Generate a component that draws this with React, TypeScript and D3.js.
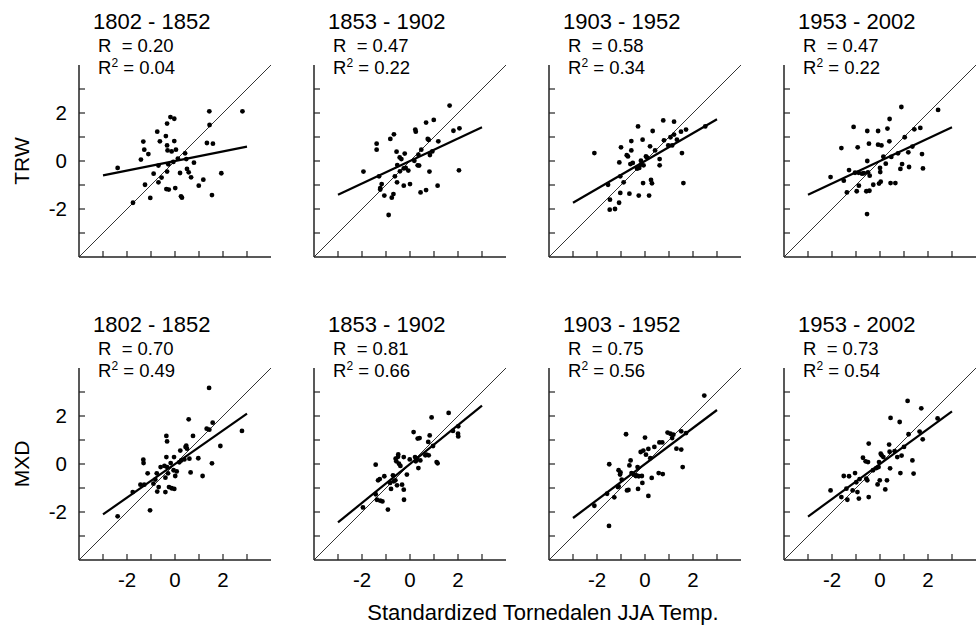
import React from "react";
import * as d3 from "d3";

type Pt = [number, number];

const periods = ["1802 - 1852", "1853 - 1902", "1903 - 1952", "1953 - 2002"];
const rowLabels = ["TRW", "MXD"];
const trwR = [0.2, 0.47, 0.58, 0.47];
const trwR2 = [0.04, 0.22, 0.34, 0.22];
const mxdR = [0.7, 0.81, 0.75, 0.73];
const mxdR2 = [0.49, 0.66, 0.56, 0.54];
const tickValues = [-3, -2, -1, 0, 1, 2, 3];
const tickLabels = [-2, 0, 2];
const xTitle = "Standardized Tornedalen JJA Temp.";

const trw1: Pt[] = [
  [-2.39, -0.29], [-1.75, -1.74], [-1.42, 0.06], [-1.32, 0.81], [-1.28, 0.47], [-1.11, 0.29],
  [-1.25, -0.99], [-1.03, -1.54], [-0.89, -0.53], [-0.74, 1.22], [-0.69, -0.19], [-0.69, -0.89],
  [-0.63, 0.82], [-0.56, -0.69], [-0.38, 1.04], [-0.33, 1.56], [-0.33, 0.65], [-0.31, 0.44],
  [-0.33, -0.44], [-0.36, -1.17], [-0.26, -1.19], [-0.28, -0.14], [-0.19, 1.83], [-0.03, 1.76],
  [-0.14, 0.4], [-0.07, -0.04], [-0.03, 0.83], [0.04, 0.47], [0.01, -1.13], [0.21, -0.5],
  [0.25, -1.47], [0.29, -1.53], [0.42, 0.32], [0.47, 0.08], [0.5, -0.33], [0.57, -0.47],
  [0.67, -0.68], [0.79, -0.07], [0.99, -1.03], [1.18, -0.78], [1.33, 0.75], [1.58, 0.72],
  [1.44, 1.5], [1.43, 2.07], [1.54, -1.42], [1.93, -0.51], [2.81, 2.07], [0.12, 0.1],
];

const trw2: Pt[] = [
  [-1.94, -0.44], [-1.39, 0.72], [-1.39, 0.47], [-1.29, -0.64], [-1.18, -0.96], [-1.24, -1.13],
  [-1.24, -1.19], [-1.07, -1.44], [-0.89, -2.25], [-0.82, 0.92], [-0.67, 1.11], [-0.76, -1.53],
  [-0.69, -1.38], [-0.63, -0.64], [-0.56, 0.39], [-0.53, -0.17], [-0.54, -0.89], [-0.43, 0.15],
  [-0.36, 0.08], [-0.42, -0.43], [-0.22, 0.31], [-0.26, -0.31], [-0.26, -1.03], [-0.18, -0.29],
  [-0.07, -0.4], [0.0, -0.96], [0.18, 0.01], [0.22, 1.31], [0.24, 1.22], [0.32, -0.18],
  [0.38, -0.19], [0.35, 0.26], [0.47, 0.47], [0.44, -1.31], [0.67, 1.6], [0.67, -1.21],
  [0.74, 0.92], [0.78, 0.88], [0.81, -0.44], [0.83, 0.25], [0.93, 0.4], [0.99, 1.71],
  [1.15, -1.03], [1.18, 0.82], [1.65, 2.31], [1.81, 1.26], [2.06, 1.36], [2.04, -0.39],
];

const trw3: Pt[] = [
  [-2.11, 0.33], [-1.54, -0.99], [-1.46, -1.61], [-1.47, -2.03], [-1.25, -2.0], [-1.08, -1.74],
  [-1.03, -1.33], [-1.03, -0.64], [-1.07, -0.06], [-1.0, 0.57], [-0.89, -0.89], [-0.76, 0.24],
  [-0.71, 0.19], [-0.65, -1.36], [-0.57, 0.83], [-0.57, 0.44], [-0.61, -0.13], [-0.51, -0.08],
  [-0.33, -0.32], [-0.29, 1.44], [-0.26, -1.44], [-0.24, -0.29], [-0.17, -0.15], [-0.17, 0.01],
  [-0.1, 0.89], [-0.08, -0.92], [-0.06, -0.18], [0.04, 0.19], [0.08, 0.15], [0.17, -1.44],
  [0.21, 0.61], [0.25, -0.79], [0.29, -0.93], [0.32, 1.25], [0.42, 0.44], [0.61, 0.08],
  [0.61, -0.18], [0.76, 1.69], [0.79, 0.86], [0.97, 0.65], [1.06, 0.99], [1.13, 0.65],
  [1.21, 1.64], [1.21, 1.1], [1.33, 0.89], [1.5, 1.22], [1.54, 0.33], [1.6, -0.92],
  [1.71, 1.31], [2.51, 1.44],
];

const trw4: Pt[] = [
  [-2.06, -0.67], [-1.61, 0.54], [-1.51, -0.82], [-1.38, -1.31], [-1.29, -0.38], [-1.1, 1.42],
  [-1.04, -0.49], [-0.97, -1.26], [-0.93, 0.57], [-0.89, -0.49], [-0.88, -1.03], [-0.75, -0.53],
  [-0.67, -0.51], [-0.57, -1.26], [-0.54, -2.21], [-0.53, 1.25], [-0.53, 0.0], [-0.5, -0.47],
  [-0.46, 0.72], [-0.44, -1.24], [-0.43, -0.61], [-0.28, -0.99], [-0.08, 1.25], [-0.08, 0.68],
  [-0.04, -0.94], [0.0, -0.29], [0.01, -0.46], [0.03, -0.86], [0.06, 0.65], [0.14, 0.18],
  [0.24, -0.11], [0.31, 1.35], [0.39, 0.82], [0.4, 1.75], [0.44, -0.92], [0.47, 0.17],
  [0.64, -0.92], [0.75, 0.32], [0.85, -0.33], [0.89, 2.25], [0.92, -0.13], [1.03, 0.99],
  [1.18, 0.36], [1.21, -0.25], [1.35, 0.6], [1.43, 1.32], [1.68, 1.38], [1.75, 0.29],
  [1.79, -0.31], [2.42, 2.13],
];

const mxd1: Pt[] = [
  [-2.39, -2.18], [-1.76, -1.17], [-1.44, -0.86], [-1.32, 0.18], [-1.31, 0.04], [-1.28, -0.86],
  [-1.14, -0.39], [-1.04, -1.93], [-0.9, -0.82], [-0.82, -0.65], [-0.74, -1.15], [-0.76, -0.39],
  [-0.68, -0.96], [-0.6, -0.13], [-0.44, -0.08], [-0.4, -1.17], [-0.4, -0.57], [-0.36, 1.17],
  [-0.33, 0.94], [-0.36, 0.29], [-0.33, -0.13], [-0.29, -0.39], [-0.25, -0.96], [-0.18, 0.04],
  [-0.14, -1.01], [-0.06, -0.26], [-0.03, -1.04], [-0.04, 0.29], [0.01, -0.5], [0.07, -0.31],
  [0.18, 0.07], [0.22, 0.56], [0.26, 0.15], [0.39, 0.19], [0.44, 0.71], [0.47, 0.76],
  [0.5, 0.64], [0.6, 0.22], [0.57, 1.86], [0.65, -0.35], [0.75, 1.17], [0.97, 0.24],
  [1.15, -0.5], [1.32, 1.47], [1.42, 3.17], [1.43, 1.43], [1.54, 0.03], [1.57, 1.72],
  [1.89, 0.75], [2.79, 1.38],
];

const mxd2: Pt[] = [
  [-1.96, -1.81], [-1.43, -0.03], [-1.43, -1.26], [-1.38, -1.49], [-1.33, -0.68], [-1.26, -0.63],
  [-1.24, -1.53], [-1.15, -1.56], [-1.07, -0.51], [-0.92, -1.9], [-0.83, -0.79], [-0.79, -1.04],
  [-0.71, -0.47], [-0.68, -0.72], [-0.61, -0.68], [-0.54, -0.89], [-0.6, 0.22], [-0.57, 0.11],
  [-0.49, 0.4], [-0.46, 0.01], [-0.4, -0.08], [-0.33, -0.86], [-0.26, 0.29], [-0.26, -1.07],
  [-0.25, -1.49], [-0.13, -0.44], [-0.01, 0.19], [0.15, 1.33], [0.21, 0.29], [0.24, 0.11],
  [0.28, 0.22], [0.35, -0.17], [0.32, 1.06], [0.4, 1.08], [0.43, 0.15], [0.64, 0.36],
  [0.69, 0.39], [0.76, 0.92], [0.78, 0.36], [0.82, 1.19], [0.9, 1.94], [0.96, 0.75],
  [1.11, 0.08], [1.15, 0.03], [1.61, 2.13], [1.79, 1.38], [2.01, 1.57], [2.0, 1.26],
  [2.01, 1.15], [-0.5, 0.3],
];

const mxd3: Pt[] = [
  [-2.11, -1.74], [-1.58, -1.24], [-1.49, -0.01], [-1.5, -2.58], [-1.28, -1.39], [-1.13, -0.96],
  [-1.1, -0.93], [-1.1, -0.26], [-1.04, -0.44], [-0.97, -0.65], [-0.79, 1.24], [-0.75, -1.1],
  [-0.69, -1.08], [-0.65, -0.06], [-0.6, 0.15], [-0.56, -0.38], [-0.47, -0.44], [-0.38, -0.5],
  [-0.31, -0.13], [-0.29, -1.04], [-0.26, -0.51], [-0.18, 0.5], [-0.13, -0.5], [-0.11, -0.79],
  [-0.07, 0.56], [0.0, 1.1], [0.04, 0.39], [0.14, 0.63], [0.14, -1.33], [0.22, 0.24],
  [0.28, -0.58], [0.39, 0.71], [0.57, -0.38], [0.6, 0.9], [0.74, -0.42], [0.72, 0.9],
  [0.94, 1.31], [1.06, 1.26], [1.13, 1.08], [1.18, 1.22], [1.31, 0.64], [1.51, 0.6],
  [1.51, 1.36], [1.57, -0.13], [1.71, 1.29], [2.47, 2.85], [-1.02, -0.35], [-0.36, -0.48],
];

const mxd4: Pt[] = [
  [-2.06, -1.1], [-1.61, -1.38], [-1.51, -0.5], [-1.4, -1.03], [-1.36, -1.49], [-1.29, -0.51],
  [-1.14, -1.1], [-1.04, -0.38], [-0.99, -0.76], [-0.94, -1.17], [-0.88, -1.44], [-0.85, -0.63],
  [-0.71, 0.26], [-0.6, 0.11], [-0.57, -0.61], [-0.53, -0.68], [-0.47, -1.38], [-0.5, 0.08],
  [-0.47, 0.85], [-0.29, -0.26], [-0.15, -0.17], [-0.1, -0.85], [-0.06, -0.13], [-0.01, -0.68],
  [-0.04, 0.08], [0.03, 0.43], [0.07, 0.36], [0.14, 0.29], [0.22, -1.06], [0.29, -0.68],
  [0.38, 0.81], [0.4, 0.51], [0.42, -0.18], [0.44, 1.92], [0.61, 0.54], [0.72, 0.29],
  [0.82, 1.75], [0.85, -0.38], [0.9, 0.35], [1.0, 0.71], [1.15, 2.63], [1.19, 1.24],
  [1.35, 0.15], [1.4, -0.4], [1.65, 1.35], [1.72, 2.32], [1.78, 1.03], [2.4, 1.9],
];

const trwData = [trw1, trw2, trw3, trw4];
const mxdData = [mxd1, mxd2, mxd3, mxd4];

const FONT = "'Liberation Sans', Arial, Helvetica, sans-serif";
const SIZE = 192;
const LEFTS = [79, 314, 549, 784];
const TOPS = [65, 368];
const AX = "#222";

function Panel({
  left, top, pts, r, r2, period, showX, showY,
}: {
  left: number; top: number; pts: Pt[]; r: number; r2: number; period: string; showX: boolean; showY: boolean;
}) {
  const x = d3.scaleLinear().domain([-4, 4]).range([0, SIZE]);
  const y = d3.scaleLinear().domain([-4, 4]).range([SIZE, 0]);
  const line = d3.line<number>().x((d) => x(d)).y((d) => y(d * r));
  const diag = d3.line<number>().x((d) => x(d)).y((d) => y(d));
  return (
    <g transform={`translate(${left},${top})`} fontFamily={FONT}>
      <text x={14} y={-36} fontSize={22} fill="#000">{period}</text>
      <text x={19} y={-13.5} fontSize={18.5} fill="#000">
        {"R\u00A0 = " + r.toFixed(2)}
      </text>
      <text x={19} y={8.5} fontSize={18.5} fill="#000">
        R<tspan fontSize={12} dy={-7}>2</tspan>
        <tspan dy={7}>{" = " + r2.toFixed(2)}</tspan>
      </text>
      <path d={diag([-4, 4]) || ""} stroke="#000" strokeWidth={0.8} fill="none" />
      <path d={line([-3, 3]) || ""} stroke="#000" strokeWidth={2.2} fill="none" />
      {pts.map((p, i) => (
        <circle key={i} cx={x(p[0])} cy={y(p[1])} r={2.4} fill="#000" />
      ))}
      <line x1={0} y1={0} x2={0} y2={SIZE} stroke={AX} strokeWidth={1.5} />
      <line x1={0} y1={SIZE} x2={SIZE} y2={SIZE} stroke={AX} strokeWidth={1.5} />
      {tickValues.map((t) => (
        <g key={"t" + t}>
          <line x1={0} x2={6} y1={y(t)} y2={y(t)} stroke={AX} strokeWidth={1.2} />
          <line x1={x(t)} x2={x(t)} y1={SIZE} y2={SIZE - 6} stroke={AX} strokeWidth={1.2} />
        </g>
      ))}
      {showY &&
        tickLabels.map((t) => (
          <text key={"yl" + t} x={-12} y={y(t)} dy="0.36em" textAnchor="end" fontSize={20.5} fill="#000">
            {t}
          </text>
        ))}
      {showX &&
        tickLabels.map((t) => (
          <text key={"xl" + t} x={x(t)} y={SIZE + 27} textAnchor="middle" fontSize={20.5} fill="#000">
            {t}
          </text>
        ))}
    </g>
  );
}

export default function App() {
  const rows = [
    { data: trwData, r: trwR, r2: trwR2 },
    { data: mxdData, r: mxdR, r2: mxdR2 },
  ];
  return (
    <div style={{ position: "absolute", left: 0, top: 0 }}>
      <svg width={977} height={625} style={{ display: "block", background: "#fff" }}>
        {rows.map((row, ri) =>
          row.data.map((pts, ci) => (
            <Panel
              key={ri + "-" + ci}
              left={LEFTS[ci]}
              top={TOPS[ri]}
              pts={pts}
              r={row.r[ci]}
              r2={row.r2[ci]}
              period={periods[ci]}
              showX={ri === 1}
              showY={ci === 0}
            />
          ))
        )}
        {rowLabels.map((lab, ri) => (
          <text
            key={lab}
            transform={`translate(21,${TOPS[ri] + SIZE / 2}) rotate(-90)`}
            textAnchor="middle"
            dy="0.36em"
            fontSize={21}
            fontFamily={FONT}
            fill="#000"
          >
            {lab}
          </text>
        ))}
        <text x={543} y={620} textAnchor="middle" fontSize={22} fontFamily={FONT} fill="#000">
          {xTitle}
        </text>
      </svg>
    </div>
  );
}
